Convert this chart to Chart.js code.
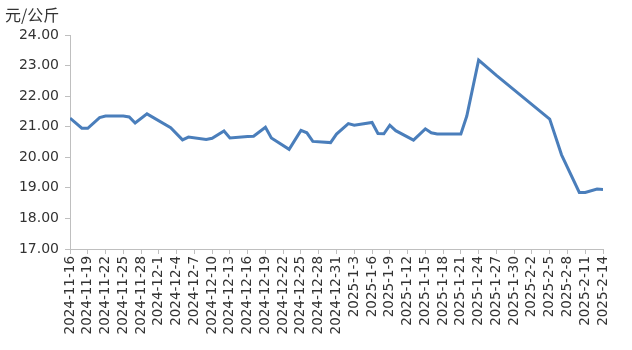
<!DOCTYPE html>
<html>
<head>
<meta charset="utf-8">
<script src="https://cdn.jsdelivr.net/npm/chart.js@4"></script>
<style>
html,body{margin:0;padding:0;background:#fff;}
#wrap{width:632px;height:350px;position:relative;}
</style>
</head>
<body>
<div id="wrap"><canvas id="c" width="632" height="350"></canvas></div>
<script>
const unitLabel = '元/公斤';
const tickLabels = [
  '2024-11-16','2024-11-19','2024-11-22','2024-11-25','2024-11-28',
  '2024-12-1','2024-12-4','2024-12-7','2024-12-10','2024-12-13',
  '2024-12-16','2024-12-19','2024-12-22','2024-12-25','2024-12-28',
  '2024-12-31','2025-1-3','2025-1-6','2025-1-9','2025-1-12',
  '2025-1-15','2025-1-18','2025-1-21','2025-1-24','2025-1-27',
  '2025-1-30','2025-2-2','2025-2-5','2025-2-8','2025-2-11','2025-2-14'
];
const dates = [
  '2024-11-16','2024-11-18','2024-11-19','2024-11-21','2024-11-22',
  '2024-11-25','2024-11-26','2024-11-27','2024-11-29','2024-12-03',
  '2024-12-05','2024-12-06','2024-12-09','2024-12-10','2024-12-12',
  '2024-12-13','2024-12-16','2024-12-17','2024-12-19','2024-12-20',
  '2024-12-23','2024-12-25','2024-12-26','2024-12-27','2024-12-30',
  '2024-12-31','2025-01-02','2025-01-03','2025-01-06','2025-01-07',
  '2025-01-08','2025-01-09','2025-01-10','2025-01-13','2025-01-15',
  '2025-01-16','2025-01-17','2025-01-20','2025-01-21','2025-01-22',
  '2025-01-24','2025-01-27','2025-02-05','2025-02-07','2025-02-10',
  '2025-02-11','2025-02-13','2025-02-14'
];
const prices = [
  21.28,20.95,20.95,21.30,21.35,
  21.35,21.32,21.12,21.42,20.97,
  20.57,20.66,20.58,20.62,20.86,
  20.63,20.68,20.69,20.98,20.63,
  20.26,20.88,20.80,20.52,20.48,
  20.76,21.10,21.05,21.14,20.78,
  20.77,21.05,20.87,20.56,20.93,
  20.80,20.76,20.76,20.76,21.35,
  23.18,22.68,21.25,20.08,18.85,
  18.85,18.96,18.95
];

const t0 = Date.UTC(2024,10,16);
function dayIndex(s){
  const p = s.split('-').map(Number);
  return Math.round((Date.UTC(p[0],p[1]-1,p[2]) - t0)/86400000);
}
const points = dates.map((s,i)=>({x: dayIndex(s), y: prices[i]}));

const unitPlugin = {
  id:'unitLabel',
  afterDraw(chart){
    const ctx = chart.ctx;
    ctx.save();
    ctx.font = '16px "Noto Sans CJK SC", sans-serif';
    ctx.fillStyle = '#333333';
    ctx.textBaseline = 'middle';
    ctx.textAlign = 'left';
    ctx.fillText(unitLabel, 5, 15);
    ctx.restore();
  }
};

const axisColor = '#bfbfbf';
new Chart(document.getElementById('c'), {
  type:'line',
  data:{datasets:[{
    data: points,
    borderColor:'#4a7ebb',
    borderWidth:3,
    pointRadius:0,
    tension:0,
    fill:false
  }]},
  options:{
    responsive:false,
    animation:false,
    layout:{padding:{top:35,right:29,left:0,bottom:0}},
    plugins:{legend:{display:false},tooltip:{enabled:false}},
    scales:{
      x:{
        type:'linear',
        min:0,max:90,
        afterFit(s){s.height=101;},
        grid:{drawOnChartArea:false,drawTicks:true,tickLength:5,color:axisColor},
        border:{color:axisColor,width:1},
        ticks:{
          stepSize:3,
          autoSkip:false,
          maxRotation:90,minRotation:90,
          padding:2,
          color:'#333333',
          font:{family:'"DejaVu Sans"',size:13.5},
          callback:(v)=>tickLabels[Math.round(v/3)]
        }
      },
      y:{
        min:17,max:24,
        afterFit(s){s.width=70;},
        grid:{drawOnChartArea:false,drawTicks:true,tickLength:5,color:axisColor},
        border:{color:axisColor,width:1},
        ticks:{
          stepSize:1,
          padding:6,
          color:'#333333',
          font:{family:'"DejaVu Sans"',size:14},
          callback:(v)=>Number(v).toFixed(2)
        }
      }
    }
  },
  plugins:[unitPlugin]
});
</script>
</body>
</html>
